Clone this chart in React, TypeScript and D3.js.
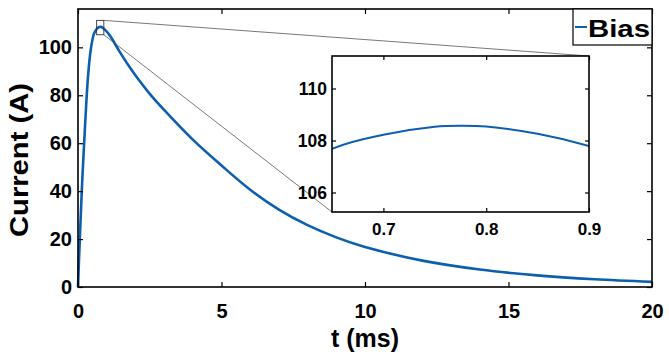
import React, { useEffect, useRef } from 'react';
import * as d3 from 'd3';

// values
const timeMs = [0, 0.03, 0.08, 0.15, 0.24, 0.35, 0.45, 0.55, 0.65, 0.7, 0.75, 0.775, 0.8, 0.85, 0.9, 1.1, 1.46, 1.75, 2.05, 2.5, 3, 4, 5, 6, 7, 8, 9, 10, 12, 14, 16, 18, 20];
const currentA = [0, 10, 25, 45, 66, 88, 99.5, 105.4, 107.68, 108.22, 108.53, 108.57, 108.54, 108.26, 107.79, 105.1, 98.0, 92.6, 87.5, 80.6, 73.9, 61.5, 50.7, 40.6, 32.3, 25.8, 20.7, 16.7, 11, 7.3, 4.85, 3.22, 2.14];

const xTicks = [0, 5, 10, 15, 20];
const yTicks = [0, 20, 40, 60, 80, 100];
const xDomain = [0, 20];
const yDomain = [0, 116];

const insetXTicks = [0.7, 0.8, 0.9];
const insetYTicks = [106, 108, 110];
const insetXDomain = [0.65, 0.9];
const insetYDomain = [105.25, 111.25];

const xLabel = 't (ms)';
const yLabel = 'Current (A)';
const legendLabel = 'Bias';

const App = () => {
  const ref = useRef<SVGSVGElement>(null);

  useEffect(() => {
    const svg = d3.select(ref.current);
    svg.selectAll('*').remove();

    const font = '"Liberation Sans", Arial, sans-serif';
    const blue = '#0b5fae';
    const main = { left: 78, right: 652, top: 9, bottom: 287 };
    const box = { left: 332, right: 589, top: 56, bottom: 212 };

    const x = d3.scaleLinear().domain(xDomain).range([main.left, main.right]);
    const y = d3.scaleLinear().domain(yDomain).range([main.bottom, main.top]);
    const data = timeMs.map((t, i) => ({ t, a: currentA[i] }));

    const styleAxis = (g, size) => {
      g.select('.domain').remove();
      g.selectAll('line').attr('stroke', '#000').attr('stroke-width', 1.2);
      g.selectAll('text')
        .attr('fill', '#000')
        .style('font-family', font)
        .style('font-weight', 'bold')
        .style('font-size', size + 'px');
    };

    // main curve
    const line = d3.line<any>().x(d => x(d.t)).y(d => y(d.a)).curve(d3.curveCatmullRom.alpha(0.5));
    svg.append('path').datum(data)
      .attr('d', line)
      .attr('fill', 'none')
      .attr('stroke', blue)
      .attr('stroke-width', 2.6);

    // main axes, ticks inside on all four sides
    svg.append('g').attr('transform', `translate(0,${main.bottom})`)
      .call(d3.axisBottom(x).tickValues(xTicks).tickSizeInner(-5).tickSizeOuter(0).tickPadding(17))
      .call(g => styleAxis(g, 20));
    svg.append('g').attr('transform', `translate(0,${main.top})`)
      .call(d3.axisTop(x).tickValues(xTicks).tickSizeInner(-5).tickSizeOuter(0).tickFormat(() => ''))
      .call(g => styleAxis(g, 20));
    svg.append('g').attr('transform', `translate(${main.left},0)`)
      .call(d3.axisLeft(y).tickValues(yTicks).tickSizeInner(-5).tickSizeOuter(0).tickPadding(6))
      .call(g => styleAxis(g, 20));
    svg.append('g').attr('transform', `translate(${main.right},0)`)
      .call(d3.axisRight(y).tickValues(yTicks).tickSizeInner(-5).tickSizeOuter(0).tickFormat(() => ''))
      .call(g => styleAxis(g, 20));
    svg.append('rect')
      .attr('x', main.left).attr('y', main.top)
      .attr('width', main.right - main.left).attr('height', main.bottom - main.top)
      .attr('fill', 'none').attr('stroke', '#000').attr('stroke-width', 1.6);

    svg.append('text')
      .attr('x', x(10)).attr('y', 347)
      .attr('text-anchor', 'middle')
      .style('font-family', font).style('font-weight', 'bold').style('font-size', '25px')
      .text(xLabel);
    svg.append('text')
      .attr('transform', `translate(28,160) rotate(-90)`)
      .attr('text-anchor', 'middle')
      .attr('textLength', 154).attr('lengthAdjust', 'spacingAndGlyphs')
      .style('font-family', font).style('font-weight', 'bold').style('font-size', '26px')
      .text(yLabel);

    // zoom rectangle and connector lines
    const zx0 = x(insetXDomain[0]), zx1 = x(insetXDomain[1]);
    const zy0 = y(insetYDomain[1]), zy1 = y(insetYDomain[0]);
    svg.append('rect')
      .attr('x', zx0).attr('y', zy0).attr('width', zx1 - zx0).attr('height', zy1 - zy0)
      .attr('fill', 'none').attr('stroke', '#333').attr('stroke-width', 0.9);
    svg.append('line')
      .attr('x1', zx1).attr('y1', zy0).attr('x2', box.right).attr('y2', box.top)
      .attr('stroke', '#555').attr('stroke-width', 0.8);
    svg.append('line')
      .attr('x1', zx1).attr('y1', zy1).attr('x2', box.left).attr('y2', box.bottom)
      .attr('stroke', '#555').attr('stroke-width', 0.8);

    // inset
    const ix = d3.scaleLinear().domain(insetXDomain).range([box.left, box.right]);
    const iy = d3.scaleLinear().domain(insetYDomain).range([box.bottom, box.top]);
    svg.append('rect')
      .attr('x', box.left).attr('y', box.top)
      .attr('width', box.right - box.left).attr('height', box.bottom - box.top)
      .attr('fill', '#fff');
    svg.append('clipPath').attr('id', 'inset-clip')
      .append('rect')
      .attr('x', box.left).attr('y', box.top)
      .attr('width', box.right - box.left).attr('height', box.bottom - box.top);
    const insetLine = d3.line<any>().x(d => ix(d.t)).y(d => iy(d.a)).curve(d3.curveCatmullRom.alpha(0.5));
    svg.append('path').datum(data)
      .attr('clip-path', 'url(#inset-clip)')
      .attr('d', insetLine)
      .attr('fill', 'none')
      .attr('stroke', blue)
      .attr('stroke-width', 2);

    svg.append('g').attr('transform', `translate(0,${box.bottom})`)
      .call(d3.axisBottom(ix).tickValues(insetXTicks).tickSizeInner(-4).tickSizeOuter(0).tickPadding(11).tickFormat(d3.format('.1f')))
      .call(g => styleAxis(g, 17));
    svg.append('g').attr('transform', `translate(0,${box.top})`)
      .call(d3.axisTop(ix).tickValues(insetXTicks).tickSizeInner(-4).tickSizeOuter(0).tickFormat(() => ''))
      .call(g => styleAxis(g, 17));
    svg.append('g').attr('transform', `translate(${box.left},0)`)
      .call(d3.axisLeft(iy).tickValues(insetYTicks).tickSizeInner(-4).tickSizeOuter(0).tickPadding(5).tickFormat(d3.format('d')))
      .call(g => styleAxis(g, 17.5));
    svg.append('g').attr('transform', `translate(${box.right},0)`)
      .call(d3.axisRight(iy).tickValues(insetYTicks).tickSizeInner(-4).tickSizeOuter(0).tickFormat(() => ''))
      .call(g => styleAxis(g, 17));
    svg.append('rect')
      .attr('x', box.left).attr('y', box.top)
      .attr('width', box.right - box.left).attr('height', box.bottom - box.top)
      .attr('fill', 'none').attr('stroke', '#000').attr('stroke-width', 1.6);

    // legend
    svg.append('rect')
      .attr('x', 573).attr('y', main.top).attr('width', main.right - 573).attr('height', 36)
      .attr('fill', '#fff').attr('stroke', '#000').attr('stroke-width', 1.2);
    svg.append('line')
      .attr('x1', 575).attr('x2', 587).attr('y1', 27).attr('y2', 27)
      .attr('stroke', blue).attr('stroke-width', 2);
    svg.append('text')
      .attr('x', 588).attr('y', 37)
      .attr('textLength', 62).attr('lengthAdjust', 'spacingAndGlyphs')
      .style('font-family', font).style('font-weight', 'bold').style('font-size', '24px')
      .text(legendLabel);
  }, []);

  return (
    <svg ref={ref} width={669} height={354}
      style={{ position: 'absolute', left: 0, top: 0, background: '#fff' }} />
  );
};

export default App;
